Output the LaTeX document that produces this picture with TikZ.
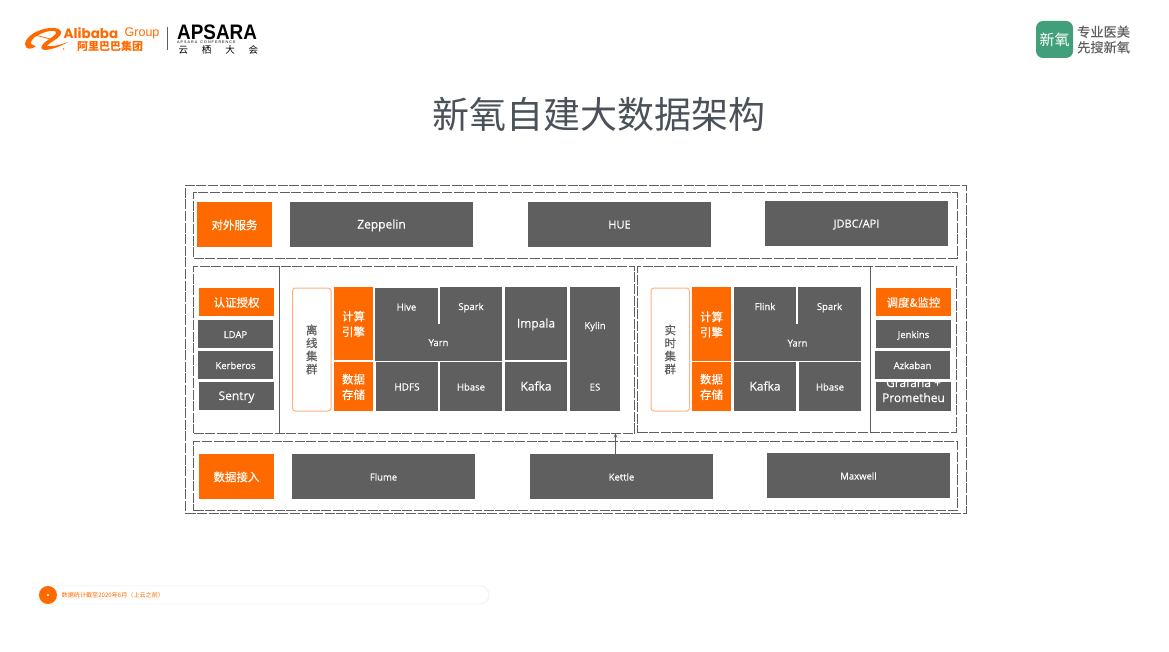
\documentclass[tikz,border=0pt]{standalone}
\usepackage{fontspec}
\usepackage{xcolor}
\usetikzlibrary{arrows.meta, positioning, calc}
\setmainfont[FakeBold=0.35]{Open Sans}
\newfontfamily\cjkfont{Noto Sans CJK SC}
\newfontfamily\cjkbold[FakeBold=0.25]{Noto Sans CJK SC}
\newfontfamily\logofont{Liberation Sans}
\newfontfamily\alifont{Poppins}
\definecolor{boxgrey}{HTML}{5F5F5F}
\definecolor{xorange}{HTML}{FF6A00}
\definecolor{pilledge}{HTML}{FFB27F}
\definecolor{titlegrey}{HTML}{4B5159}
\definecolor{xgreen}{HTML}{41A07A}

\begin{document}
\begin{tikzpicture}[
    x=1pt, y=-1pt,
    frame/.style={rectangle, draw=boxgrey, line width=0.9pt, dash pattern=on 10pt off 1.6pt, inner sep=0pt},
    grey/.style={rectangle, fill=boxgrey, text=white, inner sep=0pt, text height=1.5ex, text depth=0pt, font=\fontsize{9.5}{11}\selectfont},
    biggrey/.style={grey, font=\fontsize{12}{14}\selectfont},
    orange/.style={rectangle, fill=xorange, text=white, inner sep=0pt, align=center, text depth=0pt, font=\cjkbold\fontsize{11.5}{15.5}\selectfont},
    pill/.style={rectangle, draw=pilledge, line width=1pt, rounded corners=3pt, fill=white, text=boxgrey, inner sep=0pt, align=center, font=\cjkbold\fontsize{11.5}{13}\selectfont},
    arrow/.style={-{Stealth[length=4pt,width=3.5pt]}, draw=boxgrey, line width=0.7pt}
]
\useasboundingbox (0,0) rectangle (1169,652);

% Logos (top left)
\fill[xorange] (25,44) .. controls (26,36) and (38,29) .. (50,28) .. controls (58,27) and (62,30) .. (61,34) .. controls (60,38) and (50,42) .. (47,46) .. controls (52,47) and (60,45) .. (68,42) .. controls (60,47) and (50,50) .. (44,50) .. controls (40,49) and (41,46) .. (44,43) .. controls (50,38) and (57,35) .. (56,32) .. controls (54,29) and (42,32) .. (35,37) .. controls (31,40) and (29,44) .. (33,45) .. controls (35,46) and (36,46) .. (36,46) .. controls (32,50) and (25,50) .. (25,44) -- cycle;
\draw[xorange, line width=0.8pt] (35,35) -- (50,39);
\fill[xorange!70] (63.5,49) circle (1pt);
\node[inner sep=0pt, anchor=west, text=xorange, font=\alifont\bfseries\fontsize{13.5}{14}\selectfont] (alibaba) at (63.5,33) {Alibaba};
\node[inner sep=0pt, anchor=west, text=xorange, font=\logofont\fontsize{12.5}{14}\selectfont] (group) at (124.5,33) {Group};
\node[inner sep=0pt, anchor=west, text=xorange, font=\cjkfont\bfseries\fontsize{11}{12}\selectfont] (alicn) at (77,46.5) {阿里巴巴集团};
\draw[boxgrey, line width=1pt] (167.5,27) -- (167.5,50);
\node[inner sep=0pt, anchor=west, text=black, font=\logofont\bfseries\fontsize{21}{21}\selectfont, xscale=0.9] (apsara) at (177,32.5) {APSARA};
\node[inner sep=0pt, anchor=west, text=black, font=\logofont\fontsize{3.7}{4}\selectfont] (apsaraen) at (177,42) {A P S A R A\ \ \ C O N F E R E N C E};
\node[inner sep=0pt, anchor=west, text=black, font=\cjkfont\fontsize{9.5}{10}\selectfont] (yunqi) at (178.5,49.5) {云\hspace{13.8pt}栖\hspace{13.8pt}大\hspace{13.8pt}会};

% Logo (top right)
\node[rectangle, rounded corners=7pt, fill=xgreen, text=white, minimum width=37pt, minimum height=37pt, inner sep=0pt, font=\cjkfont\fontsize{15}{16}\selectfont] (xinyang) at (1054.5,39.5) {新氧};
\node[inner sep=0pt, anchor=west, text=boxgrey, align=left, font=\cjkbold\fontsize{13.2}{15.5}\selectfont] (slogan) at (1077,39.5) {专业医美\\先搜新氧};

% Title
\node[inner sep=0pt, text=titlegrey, font=\cjkfont\fontsize{37}{40}\selectfont] (title) at (598.5,114) {新氧自建大数据架构};

% Frames
\node[frame, minimum width=780.5pt, minimum height=327.5pt] (outer) at (575.75,349.25) {};
\node[frame, minimum width=763.5pt, minimum height=65.5pt] (top) at (575.25,225.25) {};
\node[frame, minimum width=441pt, minimum height=166.5pt] (offline) at (414,349.75) {};
\node[frame, minimum width=319pt, minimum height=166pt] (realtime) at (797,349.5) {};
\node[frame, minimum width=763.5pt, minimum height=69pt] (bottom) at (575.25,476) {};
\draw[boxgrey, line width=0.8pt] (offline.north west -| 279.5,0) -- (offline.south west -| 279.5,0);
\draw[boxgrey, line width=0.8pt] (realtime.north west -| 870.5,0) -- (realtime.south west -| 870.5,0);

% Top row
\node[orange, minimum width=75pt, minimum height=45pt] (service) at (234.5,224.5) {对外服务};
\node[biggrey, minimum width=183pt, minimum height=45pt] (Zeppelin) at (381.5,224.5) {Zeppelin};
\node[grey, minimum width=183pt, minimum height=45pt, font=\fontsize{11}{13}\selectfont] (HUE) at (619.5,224.5) {HUE};
\node[grey, minimum width=183pt, minimum height=45pt, font=\fontsize{11}{13}\selectfont] (JDBC) at (856.5,223.5) {JDBC/API};

% Left column
\node[orange, minimum width=75pt, minimum height=28pt] (auth) at (236.5,302) {认证授权};
\node[grey, minimum width=75pt, minimum height=28pt] (LDAP) at (235.5,334) {LDAP};
\node[grey, minimum width=75pt, minimum height=28pt] (Kerberos) at (235.5,365) {Kerberos};
\node[biggrey, minimum width=75pt, minimum height=28pt] (Sentry) at (236.5,396) {Sentry};

% Offline cluster
\node[pill, minimum width=38.5pt, minimum height=123pt] (offpill) at (311.75,349.5) {离\\线\\集\\群};
\node[orange, minimum width=39pt, minimum height=73pt] (offcalc) at (353.5,323.5) {计算\\引擎};
\node[orange, minimum width=39pt, minimum height=49pt] (offstore) at (353.5,386.5) {数据\\存储};
\node[grey, minimum width=127pt, minimum height=37pt] (offYarn) at (438.5,342) {Yarn};
\node[grey, minimum width=63pt, minimum height=37pt] (Hive) at (406.5,306.5) {Hive};
\node[grey, minimum width=62pt, minimum height=38pt] (offSpark) at (471,306) {Spark};
\node[grey, minimum width=62pt, minimum height=49pt, font=\fontsize{10}{12}\selectfont] (HDFS) at (407,386.5) {HDFS};
\node[grey, minimum width=62pt, minimum height=49pt] (offHbase) at (471,386.5) {Hbase};
\node[biggrey, minimum width=62pt, minimum height=73pt] (Impala) at (536,323.5) {Impala};
\node[biggrey, minimum width=62pt, minimum height=49pt] (offKafka) at (536,386.5) {Kafka};
\node[grey, minimum width=50pt, minimum height=76pt] (Kylin) at (595,325) {Kylin};
\node[grey, minimum width=50pt, minimum height=49pt] (ES) at (595,386.5) {ES};

% Realtime cluster
\node[pill, minimum width=38.5pt, minimum height=123pt] (rtpill) at (670.25,349.5) {实\\时\\集\\群};
\node[orange, minimum width=39pt, minimum height=74pt] (rtcalc) at (711.5,324) {计算\\引擎};
\node[orange, minimum width=39pt, minimum height=49pt] (rtstore) at (711.5,386.5) {数据\\存储};
\node[grey, minimum width=127pt, minimum height=37pt] (rtYarn) at (797.5,342.5) {Yarn};
\node[grey, minimum width=62pt, minimum height=38pt] (Flink) at (765,306) {Flink};
\node[grey, minimum width=63pt, minimum height=38pt] (rtSpark) at (829.5,306) {Spark};
\node[biggrey, minimum width=62pt, minimum height=49pt] (rtKafka) at (765,386.5) {Kafka};
\node[grey, minimum width=62pt, minimum height=49pt] (rtHbase) at (830,386.5) {Hbase};

% Right column
\node[orange, minimum width=75pt, minimum height=28pt] (sched) at (913.5,302) {调度\&监控};
\node[grey, minimum width=75pt, minimum height=28pt] (Jenkins) at (913.5,334) {Jenkins};
\node[grey, minimum width=75pt, minimum height=29pt] (Grafana) at (913.5,396.5) {};
\begin{scope}
\clip (876,382) rectangle (951,411);
\node[inner sep=0pt, text=white, align=center, font=\fontsize{12}{15}\selectfont] (Prometheu) at (913.5,390) {Grafana +\\Prometheu};
\end{scope}
\node[grey, minimum width=75pt, minimum height=28pt] (Azkaban) at (912.5,365) {Azkaban};

% Bottom row
\node[orange, minimum width=75pt, minimum height=45pt] (ingest) at (236.5,476.5) {数据接入};
\node[grey, minimum width=183pt, minimum height=45pt] (Flume) at (383.5,476.5) {Flume};
\node[grey, minimum width=183pt, minimum height=45pt] (Kettle) at (621.5,476.5) {Kettle};
\node[grey, minimum width=183pt, minimum height=45pt] (Maxwell) at (858.5,475.5) {Maxwell};
\coordinate (kettleup) at (615.5,454);
\draw[arrow] (kettleup |- Kettle.north) -- (kettleup |- offline.south);

% Footer
\node[rectangle, rounded corners=9pt, draw=black!6, line width=0.8pt, minimum width=450pt, minimum height=18pt, inner sep=0pt] (note) at (264,595) {};
\node[circle, fill=xorange, minimum size=18pt, inner sep=0pt] (bullet) at (48,595) {};
\fill[white] (bullet.center) circle (1.2pt);
\node[inner sep=0pt, anchor=west, text=xorange, font=\cjkfont\fontsize{6.1}{7}\selectfont] (notetext) at (61.5,595) {数据统计截至2020年6月（上云之前）};

\end{tikzpicture}
\end{document}
